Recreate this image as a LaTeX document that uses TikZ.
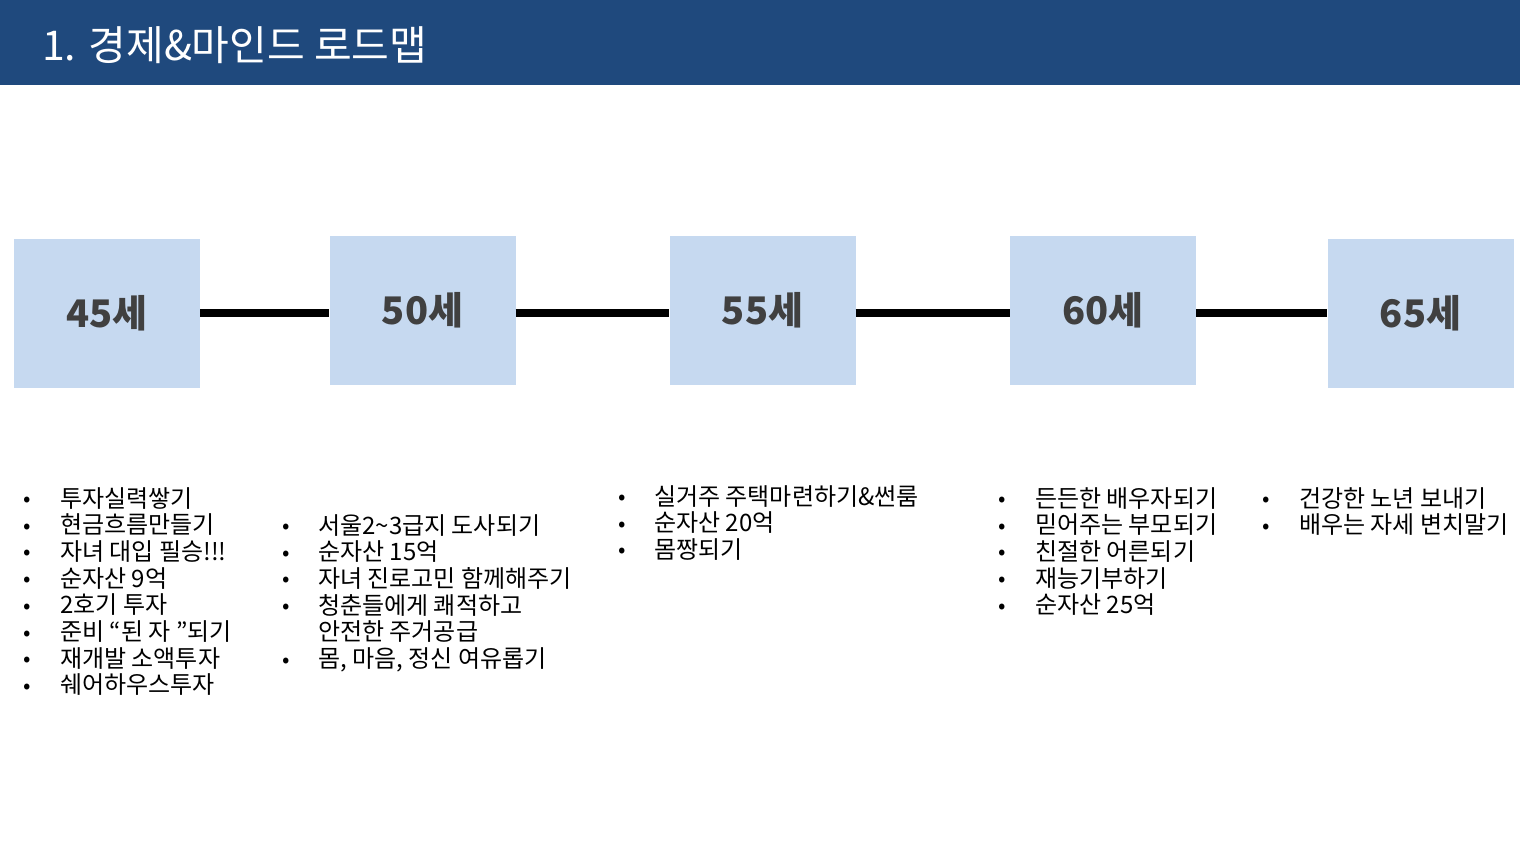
\documentclass[tikz,border=0pt]{standalone}
\usepackage{fontspec}
\setmainfont{Noto Sans CJK KR}
\definecolor{hdr}{RGB}{31,73,125}
\definecolor{boxfill}{RGB}{198,217,240}
\definecolor{lbl}{RGB}{64,64,64}
\begin{document}
\begin{tikzpicture}[x=1pt,y=-1pt,
  agebox/.style={fill=boxfill,draw=none,minimum width=186pt,minimum height=149pt,inner sep=0pt,
    text=lbl,font=\fontsize{38}{44}\selectfont\bfseries},
  conn/.style={line width=8pt,black},
  item/.style={anchor=base west,inner sep=0pt,font=\fontsize{24}{28}\selectfont,text=black},
  bul/.style={anchor=base,inner sep=0pt,font=\fontsize{22}{26}\selectfont,text=black}]
\useasboundingbox (0,0) rectangle (1520,855);
\fill[hdr] (0,0) rectangle (1520,85);
\node[anchor=base west,inner sep=0pt,text=white,font=\fontsize{41}{48}\selectfont] (title) at (42,60) {1. 경제\&마인드 로드맵};
% boxes
\node[agebox] (b45) at (107,313.5) {45세};
\node[agebox] (b50) at (422.5,310.5) {50세};
\node[agebox] (b55) at (762.5,310.5) {55세};
\node[agebox] (b60) at (1103,310.5) {60세};
\node[agebox] (b65) at (1420.5,313.5) {65세};
% connectors
\coordinate (c1) at (b45.east |- 0,313);
\coordinate (c2) at (b50.west |- 0,313);
\coordinate (c3) at (b50.east |- 0,313);
\coordinate (c4) at (b55.west |- 0,313);
\coordinate (c5) at (b55.east |- 0,313);
\coordinate (c6) at (b60.west |- 0,313);
\coordinate (c7) at (b60.east |- 0,313);
\coordinate (c8) at (b65.west |- 0,313);
\draw[conn] (c1) -- (c2);
\draw[conn] (c3) -- (c4);
\draw[conn] (c5) -- (c6);
\draw[conn] (c7) -- (c8);
% list 1
\foreach \t [count=\i] in {투자실력쌓기,현금흐름만들기,자녀 대입 필승!!!,순자산 9억,2호기 투자,준비 “된 자 ”되기,재개발 소액투자,쉐어하우스투자}{
  \node[bul] (la\i) at (27,{497+(\i-1)*26.7+9.5}) {•};
  \node[item] (ta\i) at (60,{497+(\i-1)*26.7+10}) {\t};
}
% list 2
\foreach \t [count=\i] in {서울2\textasciitilde 3급지 도사되기,순자산 15억,자녀 진로고민 함께해주기,청춘들에게 쾌적하고}{
  \node[bul] (lb\i) at (286,{524+(\i-1)*26.7+9.5}) {•};
  \node[item] (tb\i) at (318,{524+(\i-1)*26.7+10}) {\t};
}
\node[item] (tb5) at (318,{524+4*26.7+10}) {안전한 주거공급};
\node[bul] (lb6) at (286,{524+5*26.7+9.5}) {•};
\node[item] (tb6) at (318,{524+5*26.7+10}) {몸, 마음, 정신 여유롭기};
% list 3
\foreach \t [count=\i] in {실거주 주택마련하기\&썬룸,순자산 20억,몸짱되기}{
  \node[bul] (lc\i) at (622,{495+(\i-1)*26.7+9.5}) {•};
  \node[item] (tc\i) at (654,{495+(\i-1)*26.7+10}) {\t};
}
% list 4
\foreach \t [count=\i] in {든든한 배우자되기,믿어주는 부모되기,친절한 어른되기,재능기부하기,순자산 25억}{
  \node[bul] (ld\i) at (1002,{497+(\i-1)*26.7+9.5}) {•};
  \node[item] (td\i) at (1035,{497+(\i-1)*26.7+10}) {\t};
}
% list 5
\foreach \t [count=\i] in {건강한 노년 보내기,배우는 자세 변치말기}{
  \node[bul] (le\i) at (1266,{497+(\i-1)*26.7+9.5}) {•};
  \node[item] (te\i) at (1299,{497+(\i-1)*26.7+10}) {\t};
}
\end{tikzpicture}
\end{document}
